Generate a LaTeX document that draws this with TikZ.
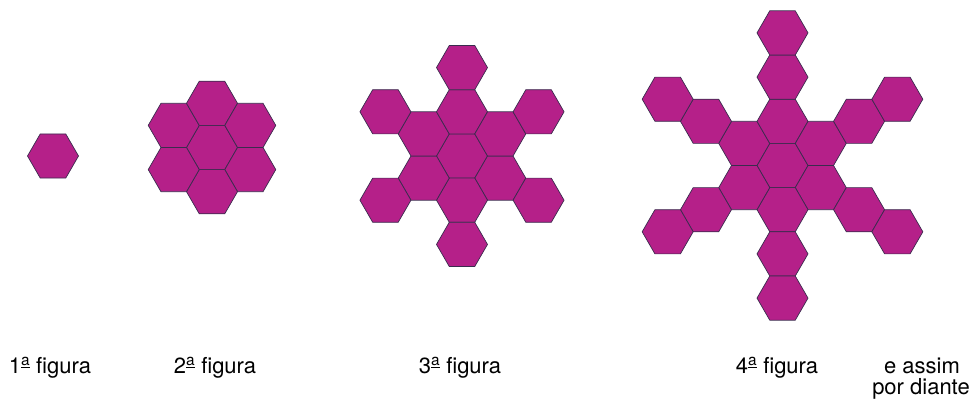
\documentclass[tikz,border=0pt]{standalone}
\usepackage{fontspec}
\setsansfont{TeX Gyre Heros}
\usepackage{tikz}
\usetikzlibrary{shapes.geometric,calc,positioning}

\definecolor{hexfill}{RGB}{181,32,137}
\definecolor{hexline}{RGB}{58,44,78}
\newcommand{\ordA}{\textsuperscript{\underline{a}}}

\begin{document}
\begin{tikzpicture}[
  x=1pt, y=-1pt,
  hexa/.style={regular polygon, regular polygon sides=6, minimum size=51pt,
               inner sep=0pt, outer sep=0pt, draw=hexline, fill=hexfill, line width=0.7pt},
  lbl/.style={font=\sffamily\fontsize{22}{26}\selectfont, inner sep=0pt, anchor=base}
]
\useasboundingbox (0,0) rectangle (971,403);
% centres of the four figures
\coordinate (c1) at (53,156);
\coordinate (c2) at (212,147.5);
\coordinate (c3) at (462,156);
\coordinate (c4) at (782.5,165.5);
% 1st figure
\node[hexa] (h1) at (c1) {};
% 2nd figure
\node[hexa] (h2) at (c2) {};
\foreach \a in {30,90,...,330}
  \node[hexa] (h2-\a) at ($(c2)+(\a:44.2)$) {};
% 3rd figure
\node[hexa] (h3) at (c3) {};
\foreach \a in {30,90,...,330}
  \foreach \k in {1,2}
    \node[hexa] (h3-\a-\k) at ($(c3)+(\a:{\k*44.2})$) {};
% 4th figure
\node[hexa] (h4) at (c4) {};
\foreach \a in {30,90,...,330}
  \foreach \k in {1,2,3}
    \node[hexa] (h4-\a-\k) at ($(c4)+(\a:{\k*44.2})$) {};
% labels
\node[lbl] (l1) at (50,373) {1\ordA{} figura};
\node[lbl] (l2) at (215,373) {2\ordA{} figura};
\node[lbl] (l3) at (460,373) {3\ordA{} figura};
\node[lbl] (l4) at (777,373) {4\ordA{} figura};
\node[lbl] (e1) at (922,373) {e assim};
\node[lbl] (e2) at (921,394) {por diante};
\end{tikzpicture}
\end{document}
